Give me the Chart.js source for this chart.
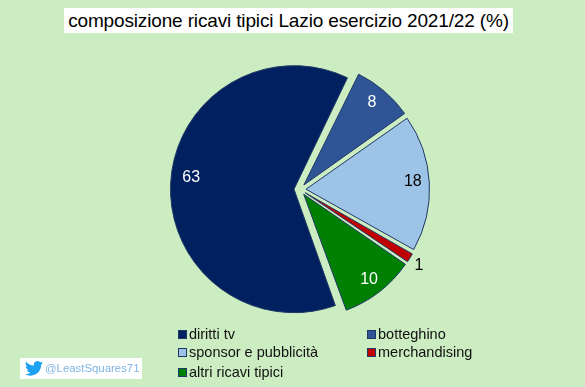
<!DOCTYPE html>
<html><head><meta charset="utf-8">
<style>
html,body{margin:0;padding:0;background:#CCECC2;width:585px;height:387px;overflow:hidden;font-family:"Liberation Sans",Arial,sans-serif}
#wrap{position:relative;width:585px;height:387px}
canvas{position:absolute;left:0;top:0}
#title{position:absolute;left:64px;top:8px;width:449px;height:25px;background:#fff;color:#000;font-size:19px;letter-spacing:-0.15px;line-height:25px;text-align:center;white-space:nowrap}
.lg{position:absolute;font-size:14.5px;line-height:18px;color:#111;white-space:nowrap}
.sw{position:absolute;width:7px;height:7px;border:1px solid #1f3864}
#badge{position:absolute;left:20px;top:358px;width:122px;height:21px;background:#fff;color:#7FB4E4;font-size:11.4px;line-height:21px}
#badge svg{position:absolute;left:5px;top:3px}
#badge span{position:absolute;left:25px;top:0;white-space:nowrap}
</style></head><body>
<div id="wrap">
<canvas id="c" width="585" height="387"></canvas>
<div id="title"></div>
<div id="legend"></div>
<div id="badge"><svg width="18" height="15" viewBox="0 0 24 20"><path fill="#1DA1F2" d="M24 2.4a9.8 9.8 0 0 1-2.8.8A4.9 4.9 0 0 0 23.3.5a9.8 9.8 0 0 1-3.1 1.2 4.9 4.9 0 0 0-8.4 4.5A14 14 0 0 1 1.7.9a4.9 4.9 0 0 0 1.5 6.6 4.9 4.9 0 0 1-2.2-.6c0 2.4 1.7 4.4 3.9 4.9a4.9 4.9 0 0 1-2.2.1 4.9 4.9 0 0 0 4.6 3.4A9.9 9.9 0 0 1 0 17.3 14 14 0 0 0 7.5 19.5c9.1 0 14.3-7.7 14-14.6A10 10 0 0 0 24 2.4z"/></svg><span id="handle"></span></div>
</div>
<script src="https://cdn.jsdelivr.net/npm/chart.js@4"></script>
<script>
const titleText = "composizione ricavi tipici Lazio esercizio 2021/22 (%)";
const handleText = "@LeastSquares71";
const categories = ["diritti tv","botteghino","sponsor e pubblicità","merchandising","altri ricavi tipici"];
const values = [62.8,8,17.9,1.4,9.9];
const sliceColors = ["#002060","#2F5597","#9DC3E6","#C00000","#008000"];
const sliceOffsets = [24,24,24,24,24];
const labelColors = ["#fff","#fff","#000","#000","#fff"];
const labelFractions = [0.834,0.875,0.866,1.085,0.85];
const labelNudges = [[0,-6],[-2,0],[0,-2],[0,2],[1,2]];

document.getElementById('title').textContent = titleText;
document.getElementById('handle').textContent = handleText;
const legendPos = [[178,334],[367,334],[178,352],[367,352],[178,372]];
const lg = document.getElementById('legend');
categories.forEach((c,i)=>{
  const [x,y]=legendPos[i];
  const s=document.createElement('div');s.className='sw';s.style.left=x+'px';s.style.top=(y-4)+'px';s.style.background=sliceColors[i];lg.appendChild(s);
  const t=document.createElement('div');t.className='lg';t.textContent=c;t.style.left=(x+11)+'px';t.style.top=(y-9)+'px';lg.appendChild(t);
});

// Chart.js enlarges an exploded arc by offset/4 * (1 - sin(circumference)); undo that so every slice has one radius.
const evenRadius = {
  id:'evenRadius',
  beforeDatasetsDraw(chart){
    chart.getDatasetMeta(0).data.forEach((a,i)=>{
      if(a.baseRadius===undefined) a.baseRadius=a.outerRadius;
      const fix=1-Math.sin(Math.min(Math.PI,a.circumference||0));
      a.outerRadius=a.baseRadius-(sliceOffsets[i]/4)*fix;
    });
  }
};

const sliceLabels = {
  id:'sliceLabels',
  afterDatasetsDraw(chart){
    const {ctx}=chart;
    const arcs=chart.getDatasetMeta(0).data;
    ctx.save();
    ctx.font='16px "Liberation Sans", Arial, sans-serif';
    ctx.textAlign='center';ctx.textBaseline='middle';
    arcs.forEach((a,i)=>{
      const m=(a.startAngle+a.endAngle)/2;
      const r=a.baseRadius*labelFractions[i]+sliceOffsets[i]/4;
      ctx.fillStyle=labelColors[i];
      ctx.fillText(String(Math.round(values[i])),a.x+Math.cos(m)*r+labelNudges[i][0],a.y+Math.sin(m)*r+labelNudges[i][1]);
    });
    ctx.restore();
  }
};

new Chart(document.getElementById('c'),{
  type:'pie',
  data:{labels:categories,datasets:[{data:values,backgroundColor:sliceColors,borderColor:"#1F3864",borderWidth:1,offset:sliceOffsets}]},
  options:{
    responsive:false,animation:false,rotation:160,
    layout:{padding:{left:164,right:149,top:53,bottom:61}},
    plugins:{legend:{display:false},title:{display:false},tooltip:{enabled:false}}
  },
  plugins:[evenRadius,sliceLabels]
});
</script>
</body></html>
